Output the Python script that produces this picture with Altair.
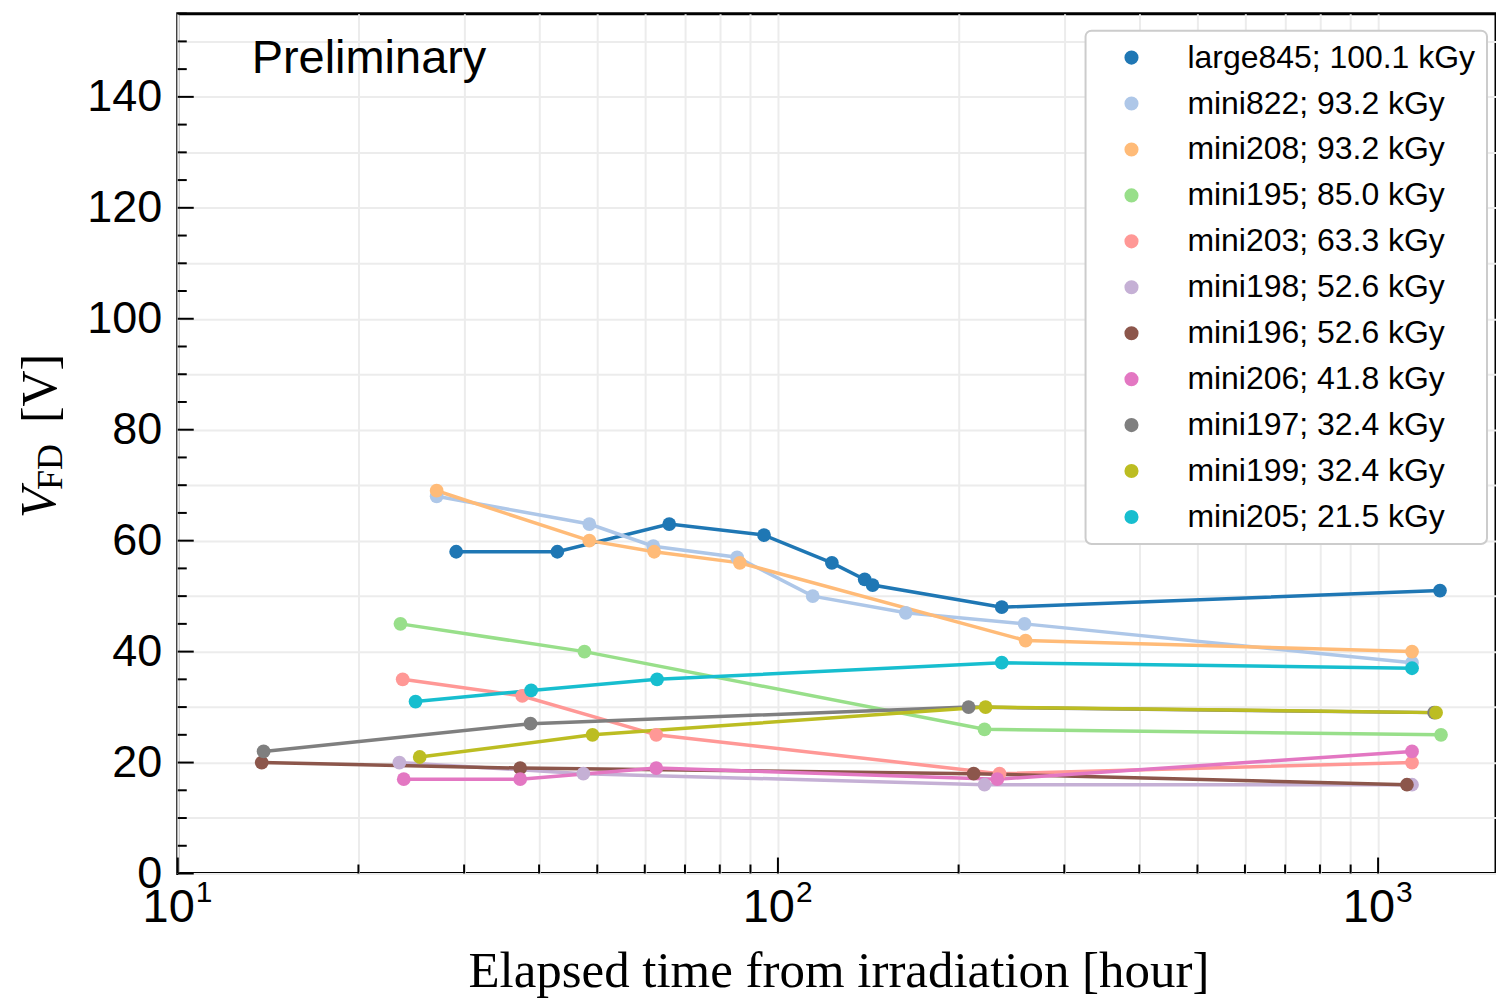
import altair as alt
import pandas as pd

# ---------------- data ----------------
series_names = [
    "large845; 100.1 kGy", "mini822; 93.2 kGy", "mini208; 93.2 kGy",
    "mini195; 85.0 kGy", "mini203; 63.3 kGy", "mini198; 52.6 kGy",
    "mini196; 52.6 kGy", "mini206; 41.8 kGy", "mini197; 32.4 kGy",
    "mini199; 32.4 kGy", "mini205; 21.5 kGy",
]
series_colors = [
    "#1f77b4", "#aec7e8", "#ffbb78", "#98df8a", "#ff9896", "#c5b0d5",
    "#8c564b", "#e377c2", "#7f7f7f", "#bcbd22", "#17becf",
]

large845_t = [29.1, 42.9, 65.9, 94.8, 123, 139.5, 143.8, 236, 1268]
large845_v = [58, 58, 63, 61, 56, 53, 52, 48, 51]
mini822_t = [27.0, 48.5, 62.0, 85.5, 114.3, 163.3, 257.6, 1139]
mini822_v = [68, 63, 59, 57, 50, 47, 45, 38]
mini208_t = [27.0, 48.5, 62.2, 86.4, 258.6, 1139]
mini208_v = [69, 60, 58, 56, 42, 40]
mini195_t = [23.5, 47.6, 220.9, 1273]
mini195_v = [45, 40, 26, 25]
mini203_t = [23.7, 37.5, 62.7, 234, 1139]
mini203_v = [35, 32, 25, 18, 20]
mini198_t = [23.4, 47.4, 220.9, 1139]
mini198_v = [20, 18, 16, 16]
mini196_t = [13.8, 37.2, 211.9, 1117]
mini196_v = [20, 19, 18, 16]
mini206_t = [23.8, 37.2, 62.7, 232, 1139]
mini206_v = [17, 17, 19, 17, 22]
mini197_t = [13.9, 38.7, 207.8, 1240]
mini197_v = [22, 27, 30, 29]
mini199_t = [25.3, 49.1, 221.8, 1249]
mini199_v = [21, 25, 30, 29]
mini205_t = [24.9, 38.8, 62.9, 236, 1139]
mini205_v = [31, 33, 35, 38, 37]

series_t = [large845_t, mini822_t, mini208_t, mini195_t, mini203_t, mini198_t,
            mini196_t, mini206_t, mini197_t, mini199_t, mini205_t]
series_v = [large845_v, mini822_v, mini208_v, mini195_v, mini203_v, mini198_v,
            mini196_v, mini206_v, mini197_v, mini199_v, mini205_v]

x_major_ticks = [10, 100, 1000]
x_tick_base = ["10", "10", "10"]
x_tick_exponent = ["1", "2", "3"]
x_minor_ticks = [20, 30, 40, 50, 60, 70, 80, 90, 200, 300, 400, 500, 600, 700, 800, 900]
y_major_ticks = [0, 20, 40, 60, 80, 100, 120, 140]
y_minor_ticks = [5, 10, 15, 25, 30, 35, 45, 50, 55, 65, 70, 75, 85, 90, 95,
                 105, 110, 115, 125, 130, 135, 145, 150, 155]

rows = []
for name, ts, vs in zip(series_names, series_t, series_v):
    for t, v in zip(ts, vs):
        rows.append({"series": name, "t": t, "v": v})
df = pd.DataFrame(rows)

# ---------------- scales ----------------
W, H = 1320, 861
xscale = alt.Scale(type="log", domain=[10, 1572], nice=False)
yscale = alt.Scale(domain=[0, 155], nice=False, zero=False)
cscale = alt.Scale(domain=series_names, range=series_colors)

xaxis = alt.Axis(
    values=x_major_ticks + x_minor_ticks, labels=False,
    title=None, ticks=False, domain=False, grid=True, gridColor="#ececec",
    gridWidth=2,
)
yaxis = alt.Axis(
    values=y_major_ticks + y_minor_ticks,
    labelExpr="datum.value % 20 == 0 ? datum.label : ''",
    title=None, ticks=False, domain=False, grid=True, gridColor="#ececec",
    gridWidth=2, labelFont="Liberation Sans", labelFontSize=45,
    labelColor="black", labelPadding=16, labelOverlap=False,
)

legend_spec = dict(
    title=None, orient="none", legendX=909, legendY=17,
    symbolType="circle", symbolSize=200, symbolStrokeWidth=0,
    labelFont="Liberation Sans", labelFontSize=32, labelColor="black",
    labelLimit=600, labelOffset=40, symbolOffset=19,
    rowPadding=14, padding=11,
    fillColor="white", strokeColor="#cccccc", cornerRadius=6,
)

base = alt.Chart(df)

lines = base.mark_line(strokeWidth=3.5, clip=True).encode(
    x=alt.X("t:Q", scale=xscale, axis=xaxis),
    y=alt.Y("v:Q", scale=yscale, axis=yaxis),
    color=alt.Color("series:N", scale=cscale, legend=alt.Legend(**legend_spec)),
    detail="series:N",
)

points = base.mark_circle(size=190, opacity=1, clip=True).encode(
    x=alt.X("t:Q", scale=xscale),
    y=alt.Y("v:Q", scale=yscale),
    color=alt.Color("series:N", scale=cscale, legend=alt.Legend(**legend_spec)),
)

# inward ticks
ymaj = alt.Chart(pd.DataFrame({"v": y_major_ticks})).mark_rule(color="black", strokeWidth=2).encode(
    y=alt.Y("v:Q", scale=yscale), x=alt.value(0), x2=alt.value(16))
ymin = alt.Chart(pd.DataFrame({"v": y_minor_ticks})).mark_rule(color="black", strokeWidth=2).encode(
    y=alt.Y("v:Q", scale=yscale), x=alt.value(0), x2=alt.value(9))
xmaj = alt.Chart(pd.DataFrame({"t": x_major_ticks})).mark_rule(color="black", strokeWidth=2).encode(
    x=alt.X("t:Q", scale=xscale), y=alt.value(H), y2=alt.value(H - 16))
xmin = alt.Chart(pd.DataFrame({"t": x_minor_ticks})).mark_rule(color="black", strokeWidth=2).encode(
    x=alt.X("t:Q", scale=xscale), y=alt.value(H), y2=alt.value(H - 9))

# x tick labels with real superscripts
xlab_df = pd.DataFrame({"t": x_major_ticks, "b": x_tick_base, "e": x_tick_exponent})
xlab_base = alt.Chart(xlab_df).mark_text(
    font="Liberation Sans", fontSize=47, align="right", baseline="alphabetic",
    dx=17, color="black",
).encode(x=alt.X("t:Q", scale=xscale), y=alt.value(910), text="b:N")
xlab_exp = alt.Chart(xlab_df).mark_text(
    font="Liberation Sans", fontSize=30, align="left", baseline="alphabetic",
    dx=18, color="black",
).encode(x=alt.X("t:Q", scale=xscale), y=alt.value(890), text="e:N")

one = pd.DataFrame({"k": [0]})

prelim = alt.Chart(one).mark_text(
    text="Preliminary", font="Liberation Sans", fontSize=47, align="left",
    baseline="alphabetic", color="black",
).encode(x=alt.value(74), y=alt.value(59))

xtitle = alt.Chart(one).mark_text(
    text="Elapsed time from irradiation [hour]", font="Liberation Serif",
    fontSize=51, align="center", baseline="alphabetic", color="black",
).encode(x=alt.value(840 - 178), y=alt.value(988 - 13))

yt_v = alt.Chart(one).mark_text(
    text="V", font="Liberation Serif", fontStyle="italic", fontSize=50,
    align="left", baseline="alphabetic", angle=270, color="black",
).encode(x=alt.value(55 - 178), y=alt.value(518 - 13))
yt_fd = alt.Chart(one).mark_text(
    text="FD", font="Liberation Serif", fontSize=36,
    align="left", baseline="alphabetic", angle=270, color="black",
).encode(x=alt.value(62 - 178), y=alt.value(490 - 13))
yt_u = alt.Chart(one).mark_text(
    text="[V]", font="Liberation Serif", fontSize=50,
    align="left", baseline="alphabetic", angle=270, color="black",
).encode(x=alt.value(56 - 178), y=alt.value(423 - 13))

chart = alt.layer(
    lines, points, ymaj, ymin, xmaj, xmin, xlab_base, xlab_exp,
    prelim, xtitle, yt_v, yt_fd, yt_u
).properties(
    width=W, height=H,
    autosize=alt.AutoSizeParams(type="none"),
    padding={"left": 178, "top": 13, "right": 0, "bottom": 126},
    background="white",
).configure_view(
    stroke="black", strokeWidth=3,
).configure_legend(
    strokeWidth=2,
)

chart.save("out.html", embed_options={"renderer": "svg", "actions": False})
